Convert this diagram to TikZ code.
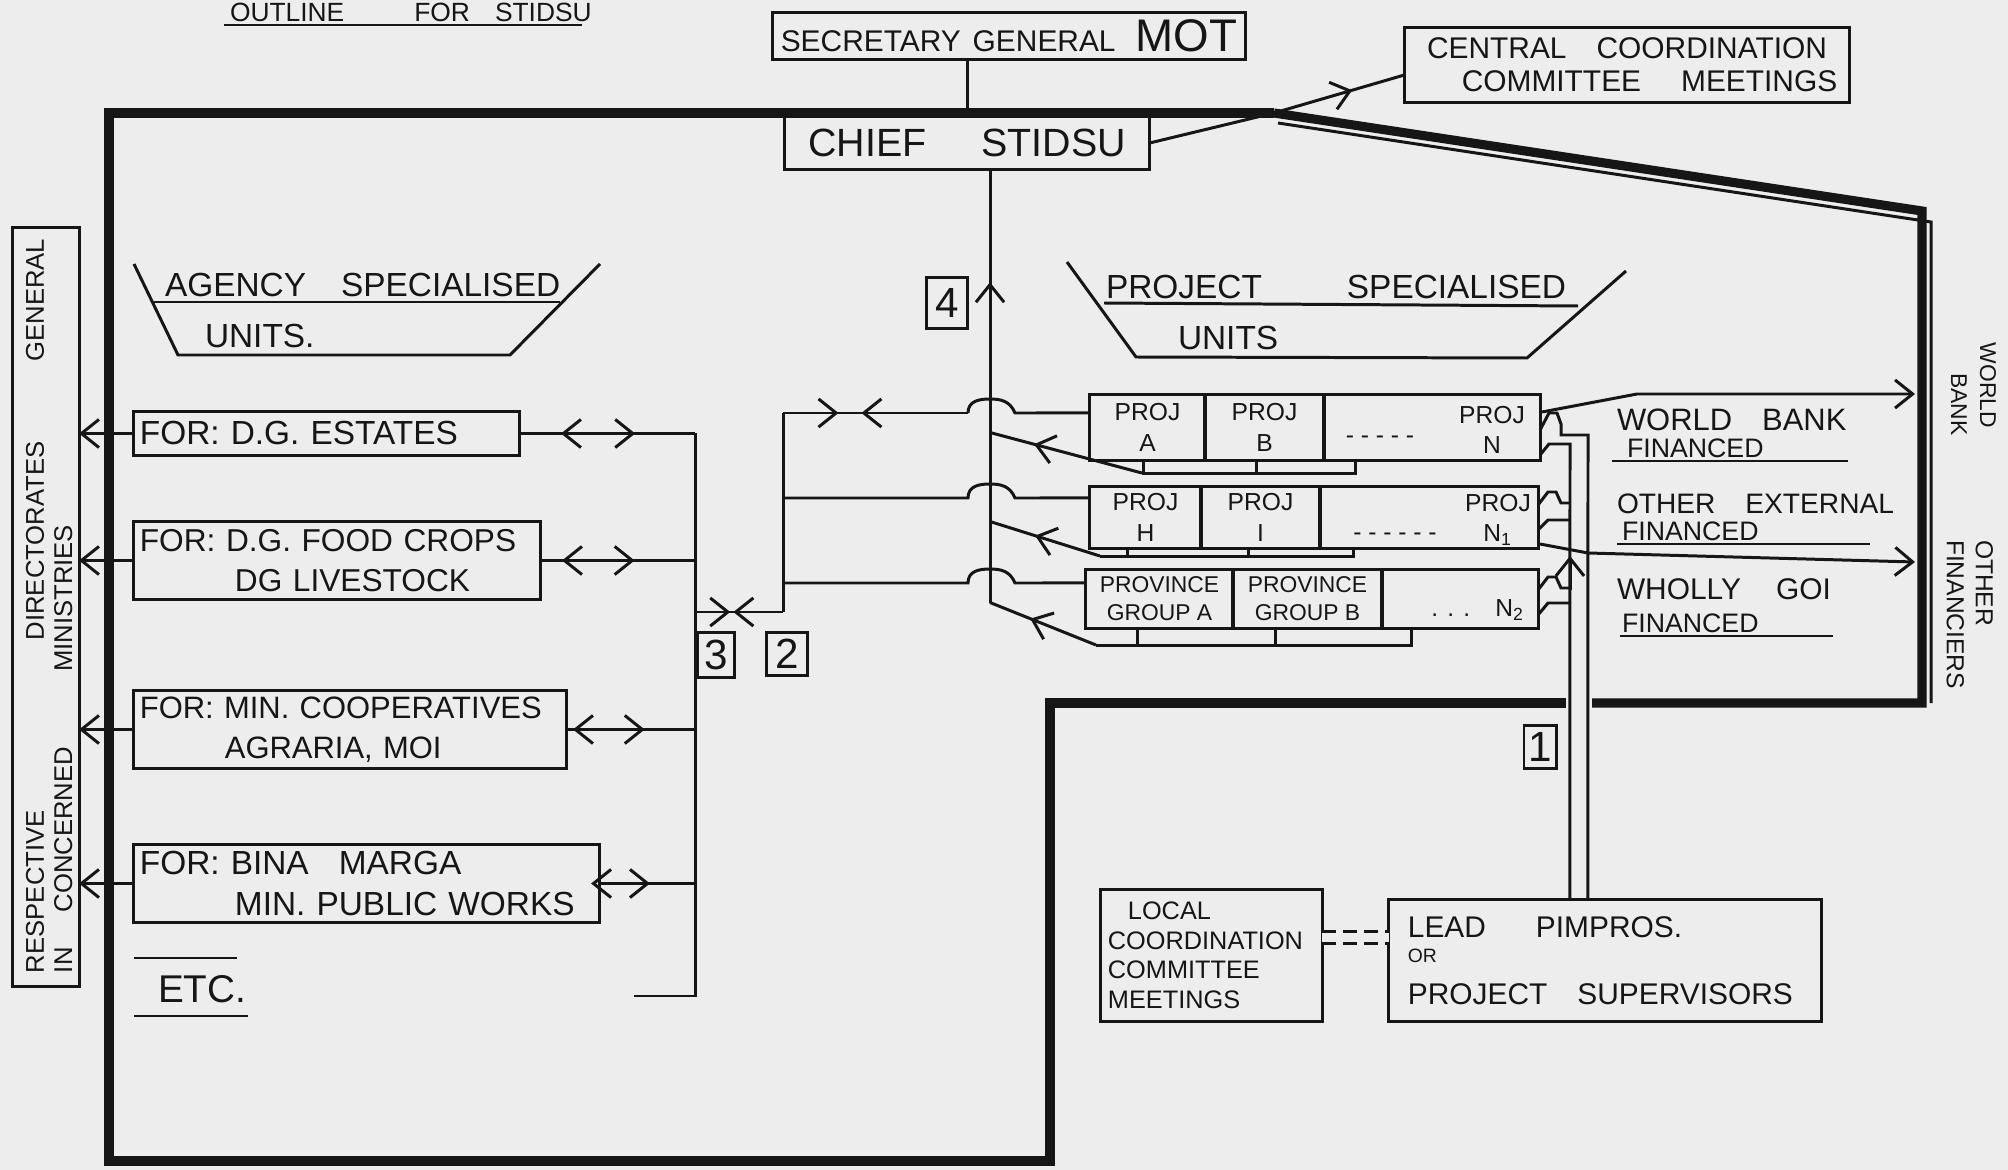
\documentclass[tikz,border=0pt]{standalone}
\usepackage{fontspec}
\setmainfont{Liberation Sans}
\usetikzlibrary{arrows.meta,calc,decorations.markings}
\definecolor{paper}{RGB}{237,237,237}
\definecolor{ink}{RGB}{22,22,22}
\newcommand\fsz[2]{\fontsize{#1}{#2}\selectfont}
\begin{document}
\begin{tikzpicture}[x=0.01cm,y=-0.01cm,
  >={Straight Barb[length=5pt,width=8pt]},
  ln/.style={draw=ink,line width=0.85pt},
  frm/.style={draw=ink,line width=2.6pt},
  bx/.style={draw=ink,line width=0.85pt,inner sep=0pt,outer sep=0pt,text=ink},
  tx/.style={inner sep=0pt,outer sep=0pt,text=ink},
  abox/.style={bx,inner xsep=0.06cm,align=left},
  pcell/.style={bx,font=\fsz{7}{8.6},align=center},
  numbox/.style={bx,font=\fsz{12}{14}},
  ctext/.style={tx,font=\fsz{7}{8.6},align=center},
  onemark/.style 2 args={postaction={decorate},decoration={markings,mark=at position #1 with {\arrow{#2}}}},
  twomarks/.style n args={4}{postaction={decorate},decoration={markings,mark=at position #1 with {\arrow{#2}},mark=at position #3 with {\arrow{#4}}}}
]
\fill[paper] (0,0) rectangle (2008,1170);
\useasboundingbox (0,0) rectangle (2008,1170);

% ---------- title ----------
\node[tx,anchor=base west,font=\fsz{7.5}{9}] (title) at (230,22) {OUTLINE\hspace{0.7cm}FOR\hspace{0.25cm}STIDSU};
\draw[ln] ($(title.base west)+(-6,3)$) -- ($(title.base east)+(-10,3)$);

% ---------- top boxes ----------
\node[bx,minimum width=4.72cm,minimum height=0.46cm,font=\fsz{8.5}{10}] (sec) at (1009,36) {SECRETARY\hspace{0.12cm}GENERAL\hspace{0.2cm}{\fsz{13}{14}MOT}};
\node[bx,minimum width=3.65cm,minimum height=0.53cm,font=\fsz{11.2}{13}] (chief) at (967,143) {CHIEF\hspace{0.55cm}STIDSU};
\node[bx,minimum width=4.45cm,minimum height=0.74cm,align=center,font=\fsz{8.5}{9.3}] (cc) at (1627,65) {CENTRAL\hspace{0.3cm}COORDINATION\\\hspace*{0.45cm}COMMITTEE\hspace{0.4cm}MEETINGS};

% ---------- frame ----------
\coordinate (ftl) at (109,113);
\coordinate (fcor) at (1274,113);
\coordinate (frt) at (1922,211);
\coordinate (frb) at (1922,703);
\coordinate (fmid) at (1050,703);
\coordinate (fbr) at (1050,1161);
\coordinate (fbl) at (109,1161);
\draw[frm] (fcor) -- (ftl) -- (fbl) -- (fbr) -- (fmid) -- (1566,703);
\draw[frm] (1592,703) -- (frb) -- (frt) -- (fcor);
\draw[ln] (1278,123) -- (1931,222) -- (1931,703);

% ---------- top connectors ----------
\draw[ln] (sec.south -| chief.north) -- (chief.north);
\draw[ln] (chief.east) -- (fcor);
\draw[ln,onemark={0.6}{>}] (fcor) -- ($(cc.west)+(0,10)$);

% ---------- directorates general box ----------
\node[bx,minimum width=0.66cm,minimum height=7.58cm] (dg) at (46,607) {};
\node[tx,rotate=90,anchor=north west,align=left,font=\fsz{7.3}{8}] (dgt) at (26,973) {RESPECTIVE\hspace{1.7cm}DIRECTORATES\hspace{0.8cm}GENERAL\\IN\hspace{0.35cm}CONCERNED\hspace{0.75cm}MINISTRIES};

% ---------- agency heading ----------
\draw[ln] (134,264) -- (178,355) -- (510,355) -- (600,264);
\draw[ln] (154,302) -- (560,302);
\node[tx,anchor=base west,font=\fsz{9.5}{11}] (agt) at (165,297) {AGENCY\hspace{0.35cm}SPECIALISED};
\node[tx,anchor=base west,font=\fsz{9.5}{11}] (agu) at (205,348) {UNITS.};

% ---------- project heading ----------
\draw[ln] (1067,262) -- (1136,357) -- (1527,358) -- (1626,271);
\draw[ln] (1104,303) -- (1578,306);
\node[tx,anchor=base west,font=\fsz{9.5}{11}] (pjt) at (1106,298) {PROJECT\hspace{0.85cm}SPECIALISED};
\node[tx,anchor=base west,font=\fsz{9.5}{11}] (pju) at (1178,350) {UNITS};

% ---------- agency boxes ----------
\node[abox,text width=3.73cm,minimum height=0.43cm,font=\fsz{9.5}{11}] (a1) at (326.5,433.5) {\mbox{FOR: D.G. ESTATES}};
\node[abox,text width=3.94cm,minimum height=0.77cm,font=\fsz{9}{11.4}] (a2) at (337,560.5) {\mbox{FOR: D.G. FOOD CROPS}\\\mbox{\hspace*{0.95cm}DG LIVESTOCK}};
\node[abox,text width=4.20cm,minimum height=0.77cm,font=\fsz{8.8}{11.4}] (a3) at (350,729.5) {\mbox{FOR: MIN. COOPERATIVES}\\\mbox{\hspace*{0.85cm}AGRARIA, MOI}};
\node[abox,text width=4.53cm,minimum height=0.77cm,font=\fsz{9.5}{11.4}] (a4) at (366.5,883.5) {\mbox{FOR: BINA\hspace{0.3cm}MARGA}\\\mbox{\hspace*{0.95cm}MIN. PUBLIC WORKS}};
\node[tx,anchor=base west,font=\fsz{11}{13}] (etc) at (158,1002) {ETC.};
\draw[ln] ($(etc.base west)+(-24,-44)$) -- ($(etc.base west)+(79,-44)$);
\draw[ln] ($(etc.base west)+(-24,14)$) -- ($(etc.base west)+(90,14)$);

% agency -> DG arrows
\draw[ln,->] (a1.west) -- (a1.west -| dg.east);
\draw[ln,->] (a2.west) -- (a2.west -| dg.east);
\draw[ln,->] (a3.west) -- (a3.west -| dg.east);
\draw[ln,->] (a4.west) -- (a4.west -| dg.east);

% ---------- bus ----------
\coordinate (bus) at (695,433);
\coordinate (busb) at (695,996);
\draw[ln] (bus) -- (busb) -- (634,996);
\draw[ln,twomarks={0.36}{<}{0.66}{>}] (a1.east) -- (a1.east -| bus);
\draw[ln,twomarks={0.28}{<}{0.61}{>}] (a2.east) -- (a2.east -| bus);
\draw[ln,twomarks={0.22}{<}{0.61}{>}] (a3.east) -- (a3.east -| bus);
\draw[ln,twomarks={0.14}{<}{0.53}{>}] (a4.east) -- (a4.east -| bus);

\coordinate (jn) at (695,612);
\coordinate (jr) at (783,612);
\draw[ln,twomarks={0.40}{>}{0.68}{<}] (jn) -- (jr);
\node[numbox,minimum width=0.36cm,minimum height=0.45cm] (n3) at (716,655) {3};
\node[numbox,minimum width=0.41cm,minimum height=0.43cm] (n2) at (787,654) {2};

% ---------- chief vertical ----------
\coordinate (vt) at ($(chief.south)+(23,0)$);
\coordinate (vb) at ($(vt)+(0,433)$);
\draw[ln,onemark={0.31}{<}] (vt) -- (vb);
\node[numbox,minimum width=0.41cm,minimum height=0.5cm] (n4) at (947,303) {4};

% ---------- project rows ----------
\node[pcell,minimum width=1.15cm,minimum height=0.65cm] (r1a) at (1147.5,427.5) {PROJ\\A};
\node[pcell,minimum width=1.19cm,minimum height=0.65cm] (r1b) at (1264.5,427.5) {PROJ\\B};
\node[pcell,minimum width=2.16cm,minimum height=0.65cm] (r1n) at (1432,427.5) {};
\node[ctext] (r1nt) at (1492,430) {PROJ\\N};
\node[ctext] (r1nd) at (1380,440) {- - - - -};

\node[pcell,minimum width=1.11cm,minimum height=0.61cm] (r2a) at (1145.5,517.5) {PROJ\\H};
\node[pcell,minimum width=1.19cm,minimum height=0.61cm] (r2b) at (1260.5,517.5) {PROJ\\I};
\node[pcell,minimum width=2.18cm,minimum height=0.61cm] (r2n) at (1429,517.5) {};
\node[ctext] (r2nt) at (1498,520) {PROJ\\N\textsubscript{1}};
\node[ctext] (r2nd) at (1395,537) {- - - - - -};

\node[pcell,font=\fsz{6.5}{8},minimum width=1.47cm,minimum height=0.58cm] (r3a) at (1159.5,599) {PROVINCE\\GROUP A};
\node[pcell,font=\fsz{6.5}{8},minimum width=1.49cm,minimum height=0.58cm] (r3b) at (1307.5,599) {PROVINCE\\GROUP B};
\node[pcell,minimum width=1.56cm,minimum height=0.58cm] (r3n) at (1460,599) {};
\node[ctext] (r3nt) at (1478,610) {. . .\hspace{0.25cm}N\textsubscript{2}};

% row feed lines with hops over the vertical line
\coordinate (r1l) at (783,413);
\draw[ln] (jr) -- (r1l);
\coordinate (h1a) at (968,413);
\coordinate (h1b) at (1015,413);
\draw[ln,twomarks={0.30}{>}{0.54}{<}] (r1l) -- (h1a);
\draw[ln] (h1a) .. controls (968,401) and (979,399) .. (990,399) .. controls (1001,399) and (1010,401) .. (h1b) -- ($(r1a.north west)+(0,18)$);
\coordinate (r2l) at (783,498);
\coordinate (h2a) at (968,498);
\coordinate (h2b) at (1015,498);
\draw[ln] (r2l) -- (h2a) .. controls (968,486) and (979,484) .. (990,484) .. controls (1001,484) and (1010,486) .. (h2b) -- ($(r2a.north west)+(0,11)$);
\coordinate (r3l) at (783,583);
\coordinate (h3a) at (968,583);
\coordinate (h3b) at (1015,583);
\draw[ln] (r3l) -- (h3a) .. controls (968,571) and (979,569) .. (990,569) .. controls (1001,569) and (1010,571) .. (h3b) -- ($(r3a.north west)+(0,13)$);

% brackets under rows and return arrows
\coordinate (b1l) at ($(r1a.south west)+(52,13)$);
\coordinate (b1r) at ($(r1n.south west)+(32,13)$);
\draw[ln] (b1l) -- (b1r) -- ++(0,-13);
\draw[ln] ($(r1a.south west)+(54,0)$) -- ++(0,13);
\draw[ln] ($(r1b.south west)+(52,0)$) -- ++(0,13);
\draw[ln,onemark={0.71}{>}] (b1l) -- ($(vt)+(0,263)$);

\coordinate (b2l) at ($(r2a.south west)+(10,8)$);
\coordinate (b2r) at ($(r2n.south west)+(34,8)$);
\draw[ln] (b2l) -- (b2r) -- ++(0,-8);
\draw[ln] ($(r2a.south west)+(38,0)$) -- ++(0,8);
\draw[ln] ($(r2b.south west)+(48,0)$) -- ++(0,8);
\draw[ln,onemark={0.59}{>}] (b2l) -- ($(vt)+(0,352)$);

\coordinate (b3l) at ($(r3a.south west)+(10,17)$);
\coordinate (b3r) at ($(r3n.south west)+(30,17)$);
\draw[ln] (b3l) -- (b3r) -- ++(0,-17);
\draw[ln] ($(r3a.south west)+(52,0)$) -- ++(0,17);
\draw[ln] ($(r3b.south west)+(43,0)$) -- ++(0,17);
\draw[ln,onemark={0.62}{>}] (b3l) -- (vb);

% ---------- bottom boxes ----------
\node[bx,minimum width=2.21cm,minimum height=1.31cm,inner xsep=0.07cm,text width=2.07cm,align=left,font=\fsz{7.2}{8.4}] (lcc) at (1211.5,955.5) {\hspace*{0.2cm}LOCAL\\\mbox{COORDINATION}\\COMMITTEE\\MEETINGS};
\node[bx,minimum width=4.32cm,minimum height=1.21cm,inner xsep=0.19cm,text width=3.94cm,align=left,font=\fsz{8.5}{10}] (lead) at (1605,960.5) {\mbox{LEAD\hspace{0.5cm}PIMPROS.}\\[-3pt]{\fsz{5.5}{6}OR}\\[2pt]\mbox{PROJECT\hspace{0.3cm}SUPERVISORS}};
\draw[ln,double=paper,double distance=2.4pt,dash pattern=on 4pt off 2pt] ($(lcc.east)+(0,-18)$) -- ($(lead.west)+(0,-23)$);

% ---------- double line to lead box, hooks ----------
\coordinate (dlo) at ($(lead.north west)+(199,0)$);
\coordinate (dli) at ($(lead.north west)+(181,0)$);
\draw[ln] ($(r1n.north east)+(0,35)$) -- (1549,413) -- (1557,413) -- (1561,424) -- (1561,435) -- (1588,435) -- (dlo);
\draw[ln] ($(r1n.north east)+(0,60)$) -- (1549,444) -- (1570,444) -- (dli);
\draw[ln] ($(r2n.north east)+(0,18)$) -- (1548,492) -- (1556,492) -- (1561,503) -- (1570,503);
\draw[ln] ($(r2n.north east)+(0,43)$) -- (1548,520) -- (1570,520);
\draw[ln] ($(r3n.north east)+(0,20)$) -- (1548,577) -- (1556,577) -- (1561,588) -- (1570,588);
\draw[ln] ($(r3n.north east)+(0,45)$) -- (1548,603) -- (1570,603);
\draw[ln,->] (1570,590) -- (1570,556);
\node[numbox,minimum width=0.32cm,minimum height=0.42cm] (n1) at (1540,747) {1};

% ---------- financing arrows and labels ----------
\draw[ln,->] ($(r1n.north east)+(2,17)$) -- (1637,394) -- (1915,394);
\draw[ln,->] ($(r2n.south east)+(2,-4)$) -- (1588,553) -- (1915,562);
\node[tx,anchor=base west,font=\fsz{8.8}{11}] (wb1) at (1617,431) {WORLD\hspace{0.3cm}BANK};
\node[tx,anchor=base west,font=\fsz{7.6}{9}] (wb2) at (1627,458) {FINANCED};
\draw[ln] (1612,461) -- (1848,461);
\node[tx,anchor=base west,font=\fsz{8}{10}] (oe1) at (1617,514) {OTHER\hspace{0.3cm}EXTERNAL};
\node[tx,anchor=base west,font=\fsz{7.6}{9}] (oe2) at (1622,541) {FINANCED};
\draw[ln] (1617,544) -- (1870,544);
\node[tx,anchor=base west,font=\fsz{8.5}{10}] (wg1) at (1617,600) {WHOLLY\hspace{0.35cm}GOI};
\node[tx,anchor=base west,font=\fsz{7.6}{9}] (wg2) at (1622,633) {FINANCED};
\draw[ln] (1620,636) -- (1833,636);

\node[tx,rotate=-90,anchor=north west,align=left,font=\fsz{6.5}{8.2}] (wbv) at (1996,343) {WORLD\\\hspace*{0.3cm}BANK};
\node[tx,rotate=-90,anchor=north west,align=left,font=\fsz{7}{8.2}] (ofv) at (1993,540) {OTHER\\FINANCIERS};
\end{tikzpicture}
\end{document}
